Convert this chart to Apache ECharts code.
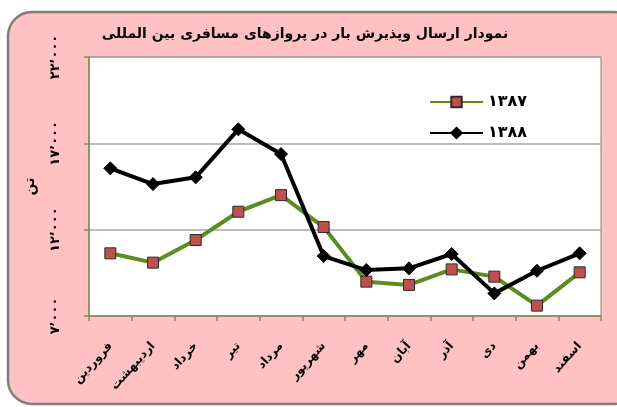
<!DOCTYPE html>
<html>
<head>
<meta charset="utf-8">
<script src="https://cdn.jsdelivr.net/npm/echarts@6/dist/echarts.min.js"></script>
<style>
  html, body { margin: 0; padding: 0; background: #fff; }
  #chart { width: 617px; height: 407px; }
</style>
</head>
<body>
<div id="chart"></div>
<script>
let months = ["فروردین", "اردیبهشت", "خرداد", "تیر", "مرداد", "شهریور", "مهر", "آبان", "آذر", "دی", "بهمن", "اسفند"];
let values1387 = [10630, 10090, 11400, 13040, 14000, 12150, 8990, 8800, 9700, 9280, 7600, 9530];
let values1388 = [15550, 14640, 15030, 17810, 16380, 10470, 9660, 9760, 10590, 8310, 9620, 10630];
let yTickLabels = ["۷٬۰۰۰", "۱۲٬۰۰۰", "۱۷٬۰۰۰", "۲۲٬۰۰۰"];
let seriesNames = ["۱۳۸۷", "۱۳۸۸"];

let font = "DejaVu Sans";
let olive = "#858a5a";

let chart = echarts.init(document.getElementById("chart"));

let option = {
    backgroundColor: "#ffffff",
    animation: false,
    graphic: [
        {
            type: "rect",
            z: -10,
            shape: { x: 8, y: 12, width: 630, height: 392, r: 24 },
            style: { fill: "#ffc1c1", stroke: "#7f7f7f", lineWidth: 2.5 }
        }
    ],
    title: {
        text: "نمودار ارسال وپذیرش بار در پروازهای مسافری بین المللی",
        left: 300,
        textAlign: "center",
        top: 22,
        textStyle: { fontFamily: font, fontSize: 14, fontWeight: "bold", color: "#000" }
    },
    legend: {
        orient: "vertical",
        left: 429,
        top: 94,
        padding: 0,
        itemWidth: 53,
        itemHeight: 13,
        itemGap: 15,
        textStyle: { fontFamily: font, fontSize: 16, fontWeight: "bold", color: "#000" },
        data: seriesNames
    },
    grid: {
        left: 89,
        top: 57,
        right: 16,
        bottom: 91,
        show: true,
        backgroundColor: "#ffffff",
        borderColor: olive,
        borderWidth: 1
    },
    xAxis: {
        type: "category",
        data: months,
        boundaryGap: true,
        axisLine: { lineStyle: { color: olive, width: 1.5 } },
        axisTick: { show: true, length: 5, lineStyle: { color: olive, width: 1.5 } },
        axisLabel: {
            rotate: 48,
            margin: 28,
            interval: 0,
            fontFamily: font,
            fontSize: 12,
            fontWeight: "bold",
            color: "#000"
        }
    },
    yAxis: {
        type: "value",
        min: 7000,
        max: 22000,
        interval: 5000,
        name: "تن",
        nameLocation: "middle",
        nameRotate: 90,
        nameGap: 52,
        nameTextStyle: { fontFamily: font, fontSize: 14, fontWeight: "bold", color: "#000" },
        axisLine: { show: true, lineStyle: { color: olive, width: 1.5 } },
        axisTick: { show: true, length: 5, lineStyle: { color: olive, width: 1.5 } },
        splitLine: { lineStyle: { color: "#a6a6a6", width: 1.5 } },
        axisLabel: {
            rotate: 90,
            margin: 27,
            fontFamily: font,
            fontSize: 13,
            fontWeight: "bold",
            color: "#000",
            formatter: function (v) {
                return yTickLabels[Math.round((v - 7000) / 5000)];
            }
        }
    },
    series: [
        {
            name: seriesNames[0],
            type: "line",
            data: values1387,
            symbol: "rect",
            symbolSize: 11,
            lineStyle: { color: "#5a8c22", width: 4 },
            itemStyle: { color: "#c0504d", borderColor: "#2b2b2b", borderWidth: 1 },
            z: 2
        },
        {
            name: seriesNames[1],
            type: "line",
            data: values1388,
            symbol: "diamond",
            symbolSize: 13,
            lineStyle: { color: "#000000", width: 4 },
            itemStyle: { color: "#000000", borderColor: "#000000", borderWidth: 1 },
            z: 3
        }
    ]
};

chart.setOption(option);
</script>
</body>
</html>
